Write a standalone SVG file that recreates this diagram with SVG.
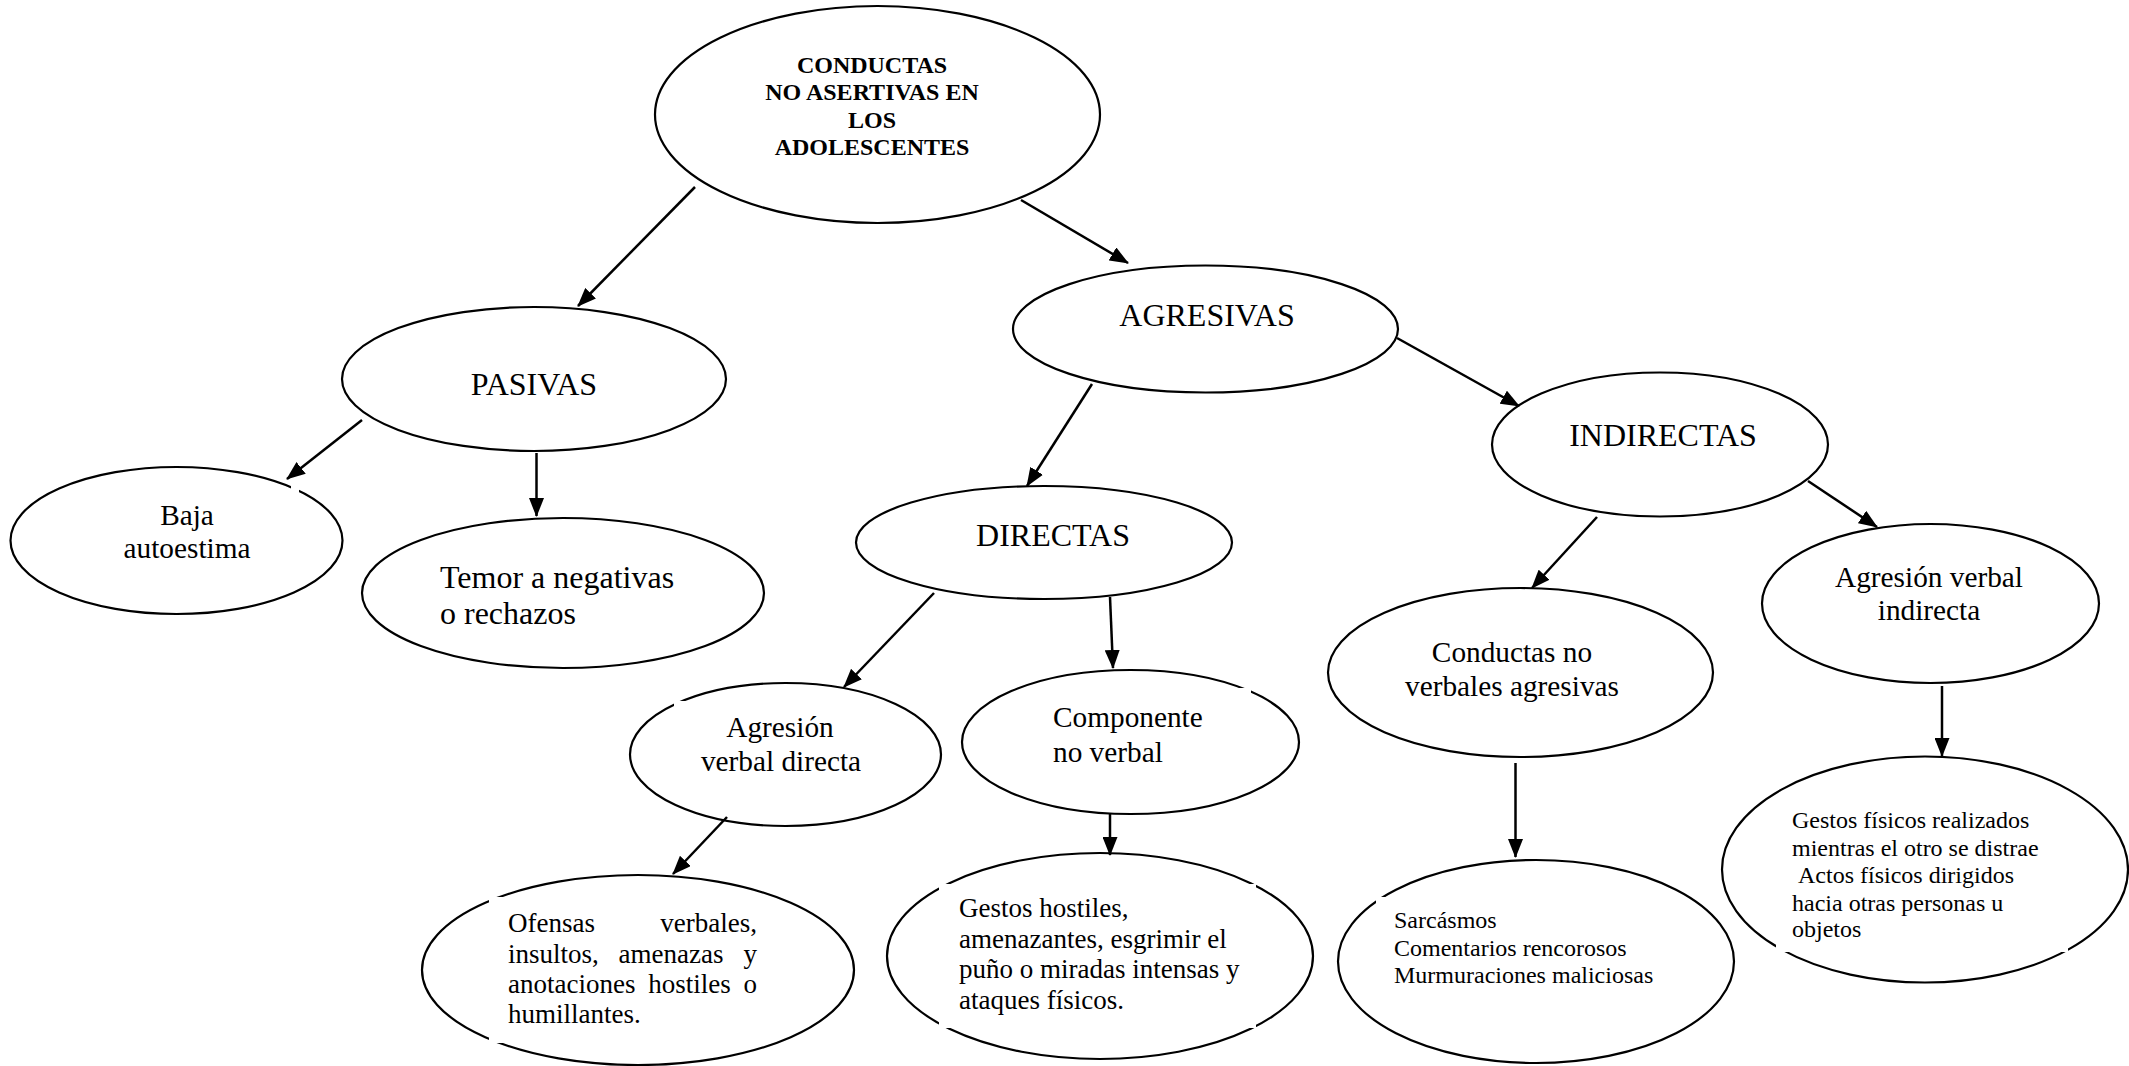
<svg xmlns="http://www.w3.org/2000/svg" width="2129" height="1066" viewBox="0 0 2129 1066">
<defs>
<style>
.bg{fill:#fff}
.n{fill:#fff;stroke:#000;stroke-width:2.2}
.mask{fill:#fff;stroke:none}
.t{font-family:"Liberation Serif","Times New Roman",serif;fill:#000}
.root{font-size:24px;font-weight:bold;text-anchor:middle}
.big{font-size:32px}
.mid{font-size:29.3px}
.sm27{font-size:27px}
.sm24{font-size:24px}
.c{text-anchor:middle}
.e{text-anchor:end}
.conn line{stroke:#000;stroke-width:2.5;fill:none}
</style>
<marker id="ah" markerWidth="19" markerHeight="15" refX="18" refY="7.5" orient="auto" markerUnits="userSpaceOnUse">
<path d="M0,0 L19,7.5 L0,15 z" fill="#000"/>
</marker>
</defs>
<rect class="bg" x="0" y="0" width="2129" height="1066"/>

<g id="root">
<ellipse class="n" cx="877.5" cy="114.5" rx="222.5" ry="108.5"/>
<text class="t root" x="872" y="73">CONDUCTAS</text>
<text class="t root" x="872" y="100">NO ASERTIVAS EN</text>
<text class="t root" x="872" y="127.5">LOS</text>
<text class="t root" x="872" y="155">ADOLESCENTES</text>
</g>

<g id="pasivas">
<ellipse class="n" cx="534" cy="379" rx="192" ry="72"/>
<text class="t big c" x="534" y="395">PASIVAS</text>
</g>

<g id="agresivas">
<ellipse class="n" cx="1205.5" cy="329" rx="192.5" ry="63.5"/>
<text class="t big c" x="1207" y="326">AGRESIVAS</text>
</g>

<g id="baja">
<ellipse class="n" cx="176.5" cy="540.5" rx="166" ry="73.5"/>
<rect class="mask" x="291" y="484" width="8" height="10"/>
<text class="t mid c" x="187" y="525">Baja</text>
<text class="t mid c" x="187" y="558">autoestima</text>
</g>

<g id="temor">
<ellipse class="n" cx="563" cy="593" rx="201" ry="75"/>
<text class="t big" x="440" y="588">Temor a negativas</text>
<text class="t big" x="440" y="624">o rechazos</text>
</g>

<g id="directas">
<ellipse class="n" cx="1044" cy="542.5" rx="188" ry="56.5"/>
<text class="t big c" x="1053" y="546">DIRECTAS</text>
</g>

<g id="indirectas">
<ellipse class="n" cx="1660" cy="444.5" rx="168" ry="72"/>
<text class="t big c" x="1663" y="446">INDIRECTAS</text>
</g>

<g id="agresion-verbal-directa">
<ellipse class="n" cx="785.5" cy="754.5" rx="155.5" ry="71.5"/>
<rect class="mask" x="674" y="701" width="200" height="79"/>
<text class="t mid c" x="780" y="737">Agresión</text>
<text class="t mid c" x="781" y="771">verbal directa</text>
</g>

<g id="componente-no-verbal">
<ellipse class="n" cx="1130.5" cy="742" rx="168.5" ry="72"/>
<rect class="mask" x="1045" y="688" width="206" height="87"/>
<text class="t mid" x="1053" y="727">Componente</text>
<text class="t mid" x="1053" y="762">no verbal</text>
</g>

<g id="conductas-no-verbales">
<ellipse class="n" cx="1520.5" cy="672.5" rx="192.5" ry="84.5"/>
<text class="t mid c" x="1512" y="662">Conductas no</text>
<text class="t mid c" x="1512" y="696">verbales agresivas</text>
</g>

<g id="agresion-verbal-indirecta">
<ellipse class="n" cx="1930.5" cy="603.5" rx="168.5" ry="79.5"/>
<text class="t mid c" x="1929" y="587">Agresión verbal</text>
<text class="t mid c" x="1929" y="620">indirecta</text>
</g>

<g id="ofensas">
<ellipse class="n" cx="638" cy="970" rx="216" ry="95"/>
<rect class="mask" x="489" y="897" width="283" height="146"/>
<text class="t sm27" x="508" y="932">Ofensas</text>
<text class="t sm27 e" x="757" y="932">verbales,</text>
<text class="t sm27" x="508" y="963">insultos,</text>
<text class="t sm27" x="618.6" y="963">amenazas</text>
<text class="t sm27 e" x="757" y="963">y</text>
<text class="t sm27" x="508" y="993">anotaciones</text>
<text class="t sm27" x="648.2" y="993">hostiles</text>
<text class="t sm27 e" x="757" y="993">o</text>
<text class="t sm27" x="508" y="1023">humillantes.</text>
</g>

<g id="gestos-hostiles">
<ellipse class="n" cx="1100" cy="956" rx="213" ry="103"/>
<rect class="mask" x="939" y="884" width="317" height="144"/>
<text class="t sm27" x="959" y="917">Gestos hostiles,</text>
<text class="t sm27" x="959" y="948">amenazantes, esgrimir el</text>
<text class="t sm27" x="959" y="978">puño o miradas intensas y</text>
<text class="t sm27" x="959" y="1009">ataques físicos.</text>
</g>

<g id="sarcasmos">
<ellipse class="n" cx="1536" cy="961.5" rx="198" ry="101.5"/>
<rect class="mask" x="1376" y="897" width="304" height="104"/>
<text class="t sm24" x="1394" y="928">Sarcásmos</text>
<text class="t sm24" x="1394" y="956">Comentarios rencorosos</text>
<text class="t sm24" x="1394" y="983">Murmuraciones maliciosas</text>
</g>

<g id="gestos-fisicos">
<ellipse class="n" cx="1925" cy="869.5" rx="203" ry="113"/>
<rect class="mask" x="1776" y="800" width="292" height="152"/>
<text class="t sm24" x="1792" y="828">Gestos físicos realizados</text>
<text class="t sm24" x="1792" y="856">mientras el otro se distrae</text>
<text class="t sm24" x="1798" y="883">Actos físicos dirigidos</text>
<text class="t sm24" x="1792" y="911">hacia otras personas u</text>
<text class="t sm24" x="1792" y="937">objetos</text>
</g>

<g id="connectors" class="conn">
<line x1="695" y1="187" x2="578" y2="306" marker-end="url(#ah)"/>
<line x1="1021" y1="200" x2="1128" y2="263" marker-end="url(#ah)"/>
<line x1="362" y1="420" x2="287" y2="479" marker-end="url(#ah)"/>
<line x1="536.5" y1="453" x2="536.5" y2="516" marker-end="url(#ah)"/>
<line x1="1092" y1="384" x2="1027" y2="486" marker-end="url(#ah)"/>
<line x1="1397" y1="338" x2="1519" y2="406" marker-end="url(#ah)"/>
<line x1="934" y1="593" x2="844" y2="687" marker-end="url(#ah)"/>
<line x1="1110" y1="597" x2="1113" y2="668" marker-end="url(#ah)"/>
<line x1="727" y1="817" x2="673" y2="874" marker-end="url(#ah)"/>
<line x1="1110" y1="814" x2="1110" y2="855" marker-end="url(#ah)"/>
<line x1="1597" y1="517" x2="1532" y2="588" marker-end="url(#ah)"/>
<line x1="1808" y1="481" x2="1877" y2="527" marker-end="url(#ah)"/>
<line x1="1515.5" y1="763" x2="1515.5" y2="857" marker-end="url(#ah)"/>
<line x1="1942" y1="686" x2="1942" y2="756" marker-end="url(#ah)"/>
</g>
</svg>
